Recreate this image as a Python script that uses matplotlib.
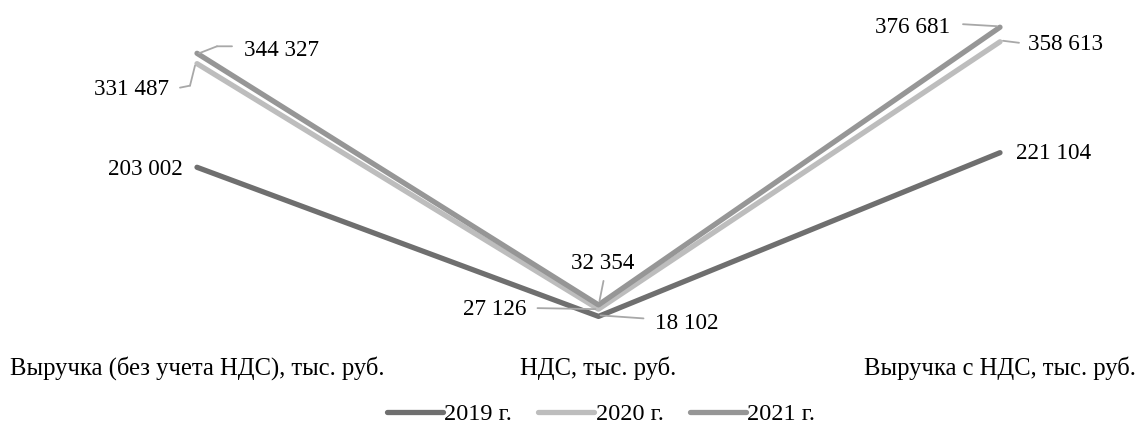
import matplotlib
matplotlib.use("Agg")
import matplotlib.pyplot as plt
from matplotlib.transforms import ScaledTranslation

plt.rcParams["font.family"] = ["Liberation Serif", "DejaVu Serif"]

categories = ["Выручка (без учета НДС), тыс. руб.", "НДС, тыс. руб.", "Выручка с НДС, тыс. руб."]
series_names = ["2019 г.", "2020 г.", "2021 г."]
values_2019 = [203002, 18102, 221104]
values_2020 = [331487, 27126, 358613]
values_2021 = [344327, 32354, 376681]

colors = ["#6f6f6f", "#bdbdbd", "#969696"]
leader_color = "#a8a8a8"
FS_VAL = 16.7
FS_CAT = 17.7
FS_LEG = 17.5

W, H, DPI = 1137, 425, 100
fig = plt.figure(figsize=(W / DPI, H / DPI), dpi=DPI)
ax = fig.add_axes([0.0, (H - 331) / H, 1.0, (331 - 8.4) / H])

x = list(range(len(categories)))
all_values = [values_2019, values_2020, values_2021]
for vals, name, c in zip(all_values, series_names, colors):
    ax.plot(x, vals, color=c, lw=3.8, solid_capstyle="round", label=name)

# category spacing: 401.5 px between points, first point at x=197 px
px_per_cat = 401.5
ax.set_xlim(-197 / px_per_cat, (W - 197) / px_per_cat)
ax.set_ylim(0, 400000)
for s in ax.spines.values():
    s.set_visible(False)
ax.set_yticks([])
ax.set_xticks(x)
ax.set_xticklabels(categories, fontsize=FS_CAT)
ax.tick_params(axis="x", length=0, pad=18)


def px_offset(dx, dy):
    return ax.transData + ScaledTranslation(dx / DPI, dy / DPI, fig.dpi_scale_trans)


def label(xi, val, dx, dy, leader=None):
    """Value label offset (dx, dy) pixels from the point; leader is a list of pixel offsets."""
    txt = f"{val:,}".replace(",", " ")
    ax.text(xi, val, txt, fontsize=FS_VAL, ha="center", va="center",
            transform=px_offset(dx, dy))
    if leader:
        for (x0, y0), (x1, y1) in zip(leader[:-1], leader[1:]):
            ax.annotate("", xy=(xi, val), xycoords=px_offset(x1, y1),
                        xytext=(xi, val), textcoords=px_offset(x0, y0),
                        arrowprops=dict(arrowstyle="-", color=leader_color, lw=1.3,
                                        shrinkA=0, shrinkB=0))


# 2019
label(0, values_2019[0], -52, -2)
label(1, values_2019[1], 88, -7, leader=[(2, 1), (45, -2)])
label(2, values_2019[2], 54, -1)
# 2020
label(0, values_2020[0], -65, -26, leader=[(-2, -2), (-7, -22), (-17, -24)])
label(1, values_2020[1], -104, 0, leader=[(-61, 1), (-3, 0)])
label(2, values_2020[2], 66, -3, leader=[(3, 1), (19, -1)])
# 2021
label(0, values_2021[0], 84, 3, leader=[(2, 0), (20, 7), (35, 7)])
label(1, values_2021[1], 4, 41, leader=[(1, 4), (5, 24)])
label(2, values_2021[2], -87, 0, leader=[(-3, 1), (-37, 3)])

leg = fig.legend(loc="center", bbox_to_anchor=(601 / W, 1 - 414 / H), ncol=3, frameon=False,
                 fontsize=FS_LEG, handlelength=2.3, handletextpad=0.05, columnspacing=1.1)
for h in leg.get_lines():
    h.set_linewidth(3.8)

fig.savefig("out.png", dpi=DPI)
